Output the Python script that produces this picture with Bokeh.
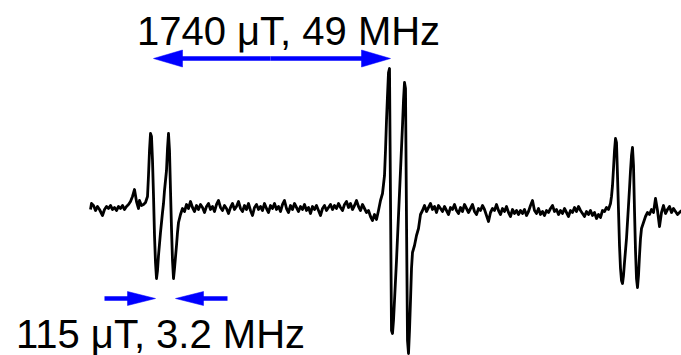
from bokeh.plotting import figure
from bokeh.models import Range1d
from bokeh.core.properties import value
from bokeh.embed import file_html
from bokeh.resources import INLINE

# EPR trace (field position, signal in image units, downward)
trace = [
    (90,209),(91,203),(93,205),(95,210),(97,206),(99,209),(101,213),(102,215),(104,209),(106,206),
    (108,208),(110,205),(112,209),(114,207),(116,210),(118,206),(120,208),(122,205),(124,209),(126,206),
    (128,204),(130,201),(132,196),(134,189),(136,201),(138,208),(139,200),(141,205),(143,204),(145,202),
    (147,196),(148,175),(149,150),(150,133),(151,136),(152,160),(153,195),(154,235),(155,262),(156,278),
    (157,270),(158,255),(160,232),(162,212),(163,203),(164,190),(166,170),(167,148),(168,133),(169,150),
    (170,190),(171,228),(172,260),(173,278),(174,268),(176,245),(177,232),(178,222),(180,214),(182,208),
    (184,211),(186,204),(188,208),(190,201),(192,207),(194,211),(196,205),(198,209),(200,204),(202,207),
    (204,212),(206,206),(208,203),(210,209),(212,206),(214,211),(216,204),(218,200),(220,207),(222,210),
    (224,205),(226,208),(228,213),(230,207),(232,203),(234,209),(236,206),(238,201),(240,208),(242,211),
    (244,205),(246,209),(248,203),(250,210),(252,215),(254,207),(256,204),(258,209),(260,206),(262,210),
    (264,203),(266,208),(268,212),(270,205),(272,208),(274,203),(276,209),(278,206),(280,211),(282,204),
    (284,200),(286,208),(288,212),(290,205),(292,209),(294,203),(296,207),(298,211),(300,206),(302,209),
    (304,204),(306,210),(308,207),(310,213),(312,206),(314,209),(316,205),(318,210),(320,215),(322,208),
    (324,205),(326,210),(328,207),(330,204),(332,209),(334,205),(336,208),(338,203),(340,207),(342,210),
    (344,204),(346,201),(348,207),(350,203),(352,209),(354,205),(356,200),(358,206),(360,210),(362,204),
    (364,208),(366,212),(368,210),(370,216),(372,220),(374,214),(376,219),(378,210),(380,200),(382,193),
    (384,175),(385,150),(386,120),(387,95),(388,72),(389,68),(390,200),(391,330),(392,333),(393,320),
    (394,300),(396,260),(398,215),(400,170),(402,125),(403,100),(404,82),(405,88),(406,220),(407,340),
    (408,353),(409,330),(410,300),(411,268),(412,252),(414,245),(416,235),(418,228),(420,214),(422,210),
    (424,205),(426,211),(428,207),(430,203),(432,209),(434,206),(436,212),(438,205),(440,208),(442,211),
    (444,206),(446,210),(448,214),(450,207),(452,209),(454,204),(456,210),(458,213),(460,207),(462,211),
    (464,204),(466,208),(468,212),(470,208),(472,204),(474,211),(476,214),(478,208),(480,210),(482,205),
    (484,209),(486,215),(488,221),(490,212),(492,208),(494,210),(496,204),(498,210),(500,214),(502,208),
    (504,211),(506,206),(508,212),(510,216),(512,209),(514,213),(516,210),(518,214),(520,210),(522,213),
    (524,209),(526,215),(528,211),(530,205),(532,200),(534,210),(536,213),(538,208),(540,214),(542,211),
    (544,215),(546,210),(548,212),(550,208),(552,205),(554,211),(556,209),(558,214),(560,210),(562,213),
    (564,208),(566,212),(568,216),(570,210),(572,212),(574,207),(576,211),(578,206),(580,210),(582,213),
    (584,216),(586,211),(588,214),(590,210),(592,215),(594,212),(596,218),(598,214),(600,217),(602,210),
    (604,211),(606,207),(608,209),(610,203),(611,196),(612,185),(613,168),(614,150),(615,138),(616,142),
    (617,175),(618,210),(619,245),(620,268),(621,280),(622,283),(623,275),(624,262),(626,238),(628,205),
    (629,188),(630,170),(631,155),(632,147),(633,165),(634,210),(635,250),(636,278),(637,287),(638,275),
    (639,255),(640,238),(641,228),(643,222),(645,216),(647,212),(649,214),(651,209),(653,212),(655,198),
    (657,210),(659,226),(661,212),(663,205),(665,213),(667,209),(669,206),(671,212),(673,208),(675,211),
    (677,214),(679,212),(681,210),
]
field_x = [t[0] for t in trace]
signal_y = [t[1] for t in trace]

# annotation labels (vertical centre of the capitals)
label_text = ["1740 \u03bcT, 49 MHz", "115 \u03bcT, 3.2 MHz"]
label_x = [288, 160]
label_y = [30, 333]

# arrows: (tail x, tip x, y)
arrow_tail = [270, 104, 227]
arrow_tip = [390, 155, 175]
arrow_y = [58, 298, 298]
arrow_head_len = [29, 28, 28]
arrow_head_half = [8.5, 7, 7]
# double-headed top arrow: second head pointing left
arrow2_tail = [270]
arrow2_tip = [153]
arrow2_y = [58]

p = figure(width=681, height=355, output_backend="svg", toolbar_location=None,
           x_range=Range1d(0, 681), y_range=Range1d(355, 0), min_border=0)
p.axis.visible = False
p.grid.visible = False
p.outline_line_color = None
p.background_fill_color = "white"
p.border_fill_color = "white"

p.line(field_x, signal_y, line_color="black", line_width=2.8, line_join="round")

BLUE = "#0000ff"

def draw_arrows(tails, tips, ys, hl, hh):
    sx0, sx1, sy = [], [], []
    hx, hy = [], []
    for t, tp, y, L, H in zip(tails, tips, ys, hl, hh):
        d = 1 if tp > t else -1
        base = tp - d * L
        sx0.append(t); sx1.append(base + d * 2); sy.append(y)
        hx.append([tp, base, base]); hy.append([y, y - H, y + H])
    p.segment(sx0, sy, sx1, sy, line_color=BLUE, line_width=4.5)
    p.patches(hx, hy, fill_color=BLUE, line_color=BLUE, line_width=0.5)

draw_arrows(arrow_tail, arrow_tip, arrow_y, arrow_head_len, arrow_head_half)
draw_arrows(arrow2_tail, arrow2_tip, arrow2_y, [29], [8.5])

p.text(label_x, label_y, text=label_text, text_font=value("Liberation Sans"),
       text_font_size="40px", text_align="center", text_baseline="middle",
       text_color="black")

open("out.html", "w").write(file_html(p, INLINE))
